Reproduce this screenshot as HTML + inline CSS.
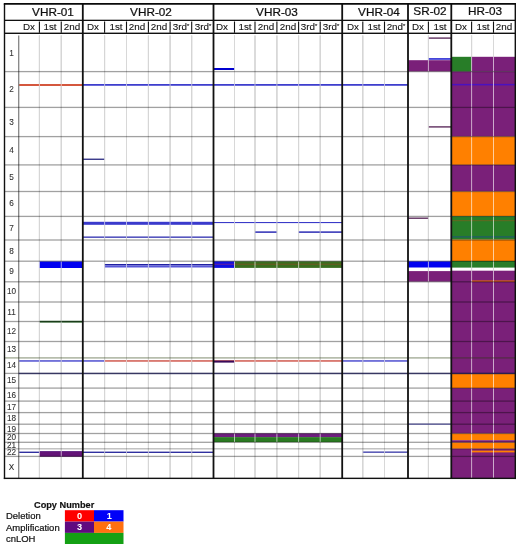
<!DOCTYPE html>
<html><head><meta charset="utf-8"><title>Copy number chart</title>
<style>
html,body{margin:0;padding:0;background:#fff;}
body{width:520px;height:547px;overflow:hidden;position:relative;}
#w{position:absolute;left:0;top:0;width:520px;height:547px;filter:blur(0.3px);}
#w div{position:absolute;}
.t{font-family:"Liberation Sans",Arial,Helvetica,sans-serif;color:#111;text-align:center;white-space:nowrap;}
.s1{-webkit-text-stroke:0.2px #111;}
.s0{-webkit-text-stroke:0.08px #111;}
.s2{-webkit-text-stroke:0.1px #111;}
.s3{-webkit-text-stroke:0.24px #111;}
.t sup{font-size:60%;vertical-align:0;position:relative;top:-0.42em;}
</style></head>
<body><div id="w">
<svg width="520" height="547" viewBox="0 0 520 547" style="position:absolute;left:0;top:0">
<rect x="38.90" y="35.50" width="1.00" height="442.85" fill="#989898"/>
<rect x="60.75" y="35.50" width="1.00" height="442.85" fill="#989898"/>
<rect x="104.10" y="35.50" width="1.00" height="442.85" fill="#989898"/>
<rect x="126.00" y="35.50" width="1.00" height="442.85" fill="#989898"/>
<rect x="147.90" y="35.50" width="1.00" height="442.85" fill="#989898"/>
<rect x="169.60" y="35.50" width="1.00" height="442.85" fill="#989898"/>
<rect x="191.20" y="35.50" width="1.00" height="442.85" fill="#989898"/>
<rect x="234.00" y="35.50" width="1.00" height="442.85" fill="#989898"/>
<rect x="254.50" y="35.50" width="1.00" height="442.85" fill="#989898"/>
<rect x="276.40" y="35.50" width="1.00" height="442.85" fill="#989898"/>
<rect x="298.10" y="35.50" width="1.00" height="442.85" fill="#989898"/>
<rect x="319.70" y="35.50" width="1.00" height="442.85" fill="#989898"/>
<rect x="362.30" y="35.50" width="1.00" height="442.85" fill="#989898"/>
<rect x="384.00" y="35.50" width="1.00" height="442.85" fill="#989898"/>
<rect x="427.90" y="35.50" width="1.00" height="442.85" fill="#989898"/>
<rect x="471.10" y="35.50" width="1.00" height="442.85" fill="#989898"/>
<rect x="493.00" y="35.50" width="1.00" height="442.85" fill="#989898"/>
<rect x="451.30" y="56.80" width="20.30" height="14.80" fill="#287d28"/>
<rect x="471.60" y="56.80" width="43.70" height="14.80" fill="#7a2079"/>
<rect x="451.30" y="71.60" width="64.00" height="65.00" fill="#7a2079"/>
<rect x="451.30" y="136.60" width="64.00" height="28.30" fill="#ff8000"/>
<rect x="451.30" y="164.90" width="64.00" height="26.60" fill="#7a2079"/>
<rect x="451.30" y="191.50" width="64.00" height="24.70" fill="#ff8000"/>
<rect x="451.30" y="216.20" width="64.00" height="23.40" fill="#287d28"/>
<rect x="451.30" y="239.60" width="64.00" height="21.40" fill="#ff8000"/>
<rect x="451.30" y="261.00" width="64.00" height="6.60" fill="#287d28"/>
<rect x="451.30" y="270.70" width="64.00" height="103.10" fill="#7a2079"/>
<rect x="451.30" y="373.80" width="64.00" height="14.30" fill="#ff8000"/>
<rect x="451.30" y="388.10" width="64.00" height="45.50" fill="#7a2079"/>
<rect x="451.30" y="433.60" width="64.00" height="6.60" fill="#ff8000"/>
<rect x="451.30" y="440.20" width="64.00" height="2.40" fill="#7a2079"/>
<rect x="451.30" y="442.60" width="64.00" height="6.20" fill="#ff8000"/>
<rect x="451.30" y="448.80" width="64.00" height="29.40" fill="#7a2079"/>
<rect x="471.60" y="450.60" width="43.70" height="1.80" fill="#ff8000"/>
<rect x="471.60" y="280.30" width="43.70" height="1.70" fill="#d0582a"/>
<rect x="451.30" y="220.00" width="64.00" height="1.20" fill="#5a6a20"/>
<rect x="451.30" y="236.30" width="64.00" height="1.20" fill="#1f5a6a"/>
<rect x="451.30" y="83.90" width="64.00" height="1.50" fill="#4a12c0"/>
<rect x="18.65" y="84.10" width="64.15" height="1.80" fill="#d0452a"/>
<rect x="39.40" y="261.40" width="43.40" height="6.60" fill="#0000f0"/>
<rect x="39.40" y="320.80" width="43.40" height="1.80" fill="#2a602a"/>
<rect x="39.40" y="451.40" width="43.40" height="5.10" fill="#641478"/>
<rect x="82.80" y="84.10" width="325.20" height="1.60" fill="#2a2ac8"/>
<rect x="82.80" y="158.60" width="21.80" height="1.30" fill="#282880"/>
<rect x="82.80" y="221.80" width="130.70" height="3.00" fill="#3a3acc"/>
<rect x="82.80" y="236.50" width="130.70" height="1.30" fill="#2e2eb0"/>
<rect x="104.60" y="264.00" width="108.90" height="1.40" fill="#2020a0"/>
<rect x="104.60" y="265.40" width="108.90" height="2.10" fill="#5858d8"/>
<rect x="18.65" y="360.20" width="85.95" height="1.50" fill="#5050d0"/>
<rect x="104.60" y="360.20" width="237.60" height="1.50" fill="#d05a50"/>
<rect x="213.50" y="360.60" width="21.00" height="2.00" fill="#3a0a5a"/>
<rect x="342.20" y="360.20" width="65.80" height="1.50" fill="#5050d0"/>
<rect x="18.65" y="451.60" width="194.85" height="1.40" fill="#3030a0"/>
<rect x="39.40" y="451.40" width="43.40" height="5.10" fill="#641478"/>
<rect x="213.50" y="68.00" width="21.00" height="2.00" fill="#0000d0"/>
<rect x="213.50" y="222.00" width="128.70" height="1.10" fill="#3a3ac8"/>
<rect x="255.00" y="231.40" width="21.90" height="1.40" fill="#2020b0"/>
<rect x="298.60" y="231.40" width="43.60" height="1.40" fill="#2020b0"/>
<rect x="213.50" y="261.30" width="21.00" height="6.60" fill="#1010e0"/>
<rect x="234.50" y="261.30" width="107.70" height="6.60" fill="#3a6e1e"/>
<rect x="213.50" y="263.70" width="21.00" height="1.10" fill="#6020a0"/>
<rect x="234.50" y="263.70" width="107.70" height="1.10" fill="#6a5a22"/>
<rect x="213.50" y="433.30" width="128.70" height="3.80" fill="#6e1e7e"/>
<rect x="213.50" y="437.10" width="128.70" height="5.00" fill="#2a7a22"/>
<rect x="362.80" y="451.50" width="45.20" height="1.30" fill="#3838a8"/>
<rect x="428.40" y="37.40" width="22.90" height="1.40" fill="#603060"/>
<rect x="428.40" y="58.20" width="22.90" height="1.50" fill="#1818d0"/>
<rect x="408.00" y="60.20" width="43.30" height="11.20" fill="#7a2079"/>
<rect x="428.40" y="126.20" width="22.90" height="1.40" fill="#603060"/>
<rect x="408.00" y="217.50" width="20.40" height="1.40" fill="#603060"/>
<rect x="408.00" y="261.30" width="43.30" height="6.20" fill="#0000f0"/>
<rect x="408.00" y="271.10" width="43.30" height="10.50" fill="#7a2079"/>
<rect x="38.90" y="35.50" width="1.00" height="442.85" fill="rgba(255,255,255,0.62)"/>
<rect x="60.75" y="35.50" width="1.00" height="442.85" fill="rgba(255,255,255,0.62)"/>
<rect x="104.10" y="35.50" width="1.00" height="442.85" fill="rgba(255,255,255,0.62)"/>
<rect x="126.00" y="35.50" width="1.00" height="442.85" fill="rgba(255,255,255,0.62)"/>
<rect x="147.90" y="35.50" width="1.00" height="442.85" fill="rgba(255,255,255,0.62)"/>
<rect x="169.60" y="35.50" width="1.00" height="442.85" fill="rgba(255,255,255,0.62)"/>
<rect x="191.20" y="35.50" width="1.00" height="442.85" fill="rgba(255,255,255,0.62)"/>
<rect x="234.00" y="35.50" width="1.00" height="442.85" fill="rgba(255,255,255,0.62)"/>
<rect x="254.50" y="35.50" width="1.00" height="442.85" fill="rgba(255,255,255,0.62)"/>
<rect x="276.40" y="35.50" width="1.00" height="442.85" fill="rgba(255,255,255,0.62)"/>
<rect x="298.10" y="35.50" width="1.00" height="442.85" fill="rgba(255,255,255,0.62)"/>
<rect x="319.70" y="35.50" width="1.00" height="442.85" fill="rgba(255,255,255,0.62)"/>
<rect x="362.30" y="35.50" width="1.00" height="442.85" fill="rgba(255,255,255,0.62)"/>
<rect x="384.00" y="35.50" width="1.00" height="442.85" fill="rgba(255,255,255,0.62)"/>
<rect x="427.90" y="35.50" width="1.00" height="442.85" fill="rgba(255,255,255,0.62)"/>
<rect x="471.10" y="35.50" width="1.00" height="442.85" fill="rgba(255,255,255,0.62)"/>
<rect x="493.00" y="35.50" width="1.00" height="442.85" fill="rgba(255,255,255,0.62)"/>
<rect x="18.05" y="35.50" width="1.30" height="442.85" fill="#858585"/>
<rect x="4.40" y="70.95" width="510.90" height="1.30" fill="rgba(0,0,0,0.37)"/>
<rect x="4.40" y="106.75" width="510.90" height="1.30" fill="rgba(0,0,0,0.37)"/>
<rect x="4.40" y="135.95" width="510.90" height="1.30" fill="rgba(0,0,0,0.37)"/>
<rect x="4.40" y="164.25" width="510.90" height="1.30" fill="rgba(0,0,0,0.37)"/>
<rect x="4.40" y="190.85" width="510.90" height="1.30" fill="rgba(0,0,0,0.37)"/>
<rect x="4.40" y="215.75" width="510.90" height="1.30" fill="rgba(0,0,0,0.37)"/>
<rect x="4.40" y="239.35" width="510.90" height="1.30" fill="rgba(0,0,0,0.37)"/>
<rect x="4.40" y="260.55" width="510.90" height="1.30" fill="rgba(0,0,0,0.37)"/>
<rect x="4.40" y="281.15" width="510.90" height="1.30" fill="rgba(0,0,0,0.37)"/>
<rect x="4.40" y="301.35" width="510.90" height="1.30" fill="rgba(0,0,0,0.37)"/>
<rect x="4.40" y="320.85" width="510.90" height="1.30" fill="rgba(0,0,0,0.37)"/>
<rect x="4.40" y="340.85" width="510.90" height="1.30" fill="rgba(0,0,0,0.37)"/>
<rect x="4.40" y="357.25" width="510.90" height="1.30" fill="rgba(40,60,10,0.45)"/>
<rect x="4.40" y="372.75" width="14.25" height="1.30" fill="rgba(0,0,0,0.37)"/>
<rect x="18.65" y="372.70" width="496.65" height="1.50" fill="rgba(20,20,70,0.85)"/>
<rect x="4.40" y="387.45" width="510.90" height="1.30" fill="rgba(0,0,0,0.37)"/>
<rect x="4.40" y="400.45" width="510.90" height="1.30" fill="rgba(0,0,0,0.37)"/>
<rect x="4.40" y="411.95" width="510.90" height="1.30" fill="rgba(0,0,0,0.37)"/>
<rect x="4.40" y="423.55" width="510.90" height="1.30" fill="rgba(0,0,0,0.37)"/>
<rect x="4.40" y="432.85" width="510.90" height="1.30" fill="rgba(0,0,0,0.37)"/>
<rect x="4.40" y="441.65" width="510.90" height="1.30" fill="rgba(0,0,0,0.37)"/>
<rect x="4.40" y="448.15" width="510.90" height="1.30" fill="rgba(0,0,0,0.28)"/>
<rect x="4.40" y="455.75" width="510.90" height="1.30" fill="rgba(0,0,0,0.37)"/>
<rect x="408.00" y="423.50" width="43.30" height="1.30" fill="#5a5a9a"/>
<rect x="81.90" y="3.70" width="1.80" height="474.65" fill="#111"/>
<rect x="212.60" y="3.70" width="1.80" height="474.65" fill="#111"/>
<rect x="341.30" y="3.70" width="1.80" height="474.65" fill="#111"/>
<rect x="407.10" y="3.70" width="1.80" height="474.65" fill="#111"/>
<rect x="450.40" y="3.70" width="1.80" height="474.65" fill="#111"/>
<rect x="4.40" y="19.70" width="510.90" height="1.30" fill="#111"/>
<rect x="4.40" y="32.60" width="510.90" height="1.40" fill="#111"/>
<rect x="38.85" y="21.50" width="1.10" height="11.30" fill="#111"/>
<rect x="60.70" y="21.50" width="1.10" height="11.30" fill="#111"/>
<rect x="104.05" y="21.50" width="1.10" height="11.30" fill="#111"/>
<rect x="125.95" y="21.50" width="1.10" height="11.30" fill="#111"/>
<rect x="147.85" y="21.50" width="1.10" height="11.30" fill="#111"/>
<rect x="169.55" y="21.50" width="1.10" height="11.30" fill="#111"/>
<rect x="191.15" y="21.50" width="1.10" height="11.30" fill="#111"/>
<rect x="233.95" y="21.50" width="1.10" height="11.30" fill="#111"/>
<rect x="254.45" y="21.50" width="1.10" height="11.30" fill="#111"/>
<rect x="276.35" y="21.50" width="1.10" height="11.30" fill="#111"/>
<rect x="298.05" y="21.50" width="1.10" height="11.30" fill="#111"/>
<rect x="319.65" y="21.50" width="1.10" height="11.30" fill="#111"/>
<rect x="362.25" y="21.50" width="1.10" height="11.30" fill="#111"/>
<rect x="383.95" y="21.50" width="1.10" height="11.30" fill="#111"/>
<rect x="427.85" y="21.50" width="1.10" height="11.30" fill="#111"/>
<rect x="471.05" y="21.50" width="1.10" height="11.30" fill="#111"/>
<rect x="492.95" y="21.50" width="1.10" height="11.30" fill="#111"/>
<rect x="3.80" y="3.70" width="1.40" height="475.35" fill="#111"/>
<rect x="514.60" y="3.70" width="1.40" height="475.35" fill="#111"/>
<rect x="3.80" y="3.00" width="512.20" height="1.75" fill="#0a0a0a"/>
<rect x="3.80" y="477.65" width="512.20" height="1.40" fill="#111"/>
<rect x="64.90" y="510.20" width="29.10" height="11.40" fill="#fe0000"/>
<rect x="94.00" y="510.20" width="29.50" height="11.40" fill="#0000f8"/>
<rect x="64.90" y="521.60" width="29.10" height="11.30" fill="#600a80"/>
<rect x="94.00" y="521.60" width="29.50" height="11.30" fill="#ff7010"/>
<rect x="64.90" y="532.90" width="58.60" height="11.10" fill="#14a014"/>
</svg>
<div class="t s3" style="left:17.60px;top:5.45px;width:70px;height:15.0px;line-height:15.0px;font-size:11.2px;transform:scaleX(1.05);">VHR-01</div>
<div class="t s3" style="left:115.60px;top:5.35px;width:70px;height:15.0px;line-height:15.0px;font-size:11.2px;transform:scaleX(1.05);">VHR-02</div>
<div class="t s3" style="left:242.30px;top:5.05px;width:70px;height:15.0px;line-height:15.0px;font-size:11.2px;transform:scaleX(1.05);">VHR-03</div>
<div class="t s3" style="left:343.90px;top:4.55px;width:70px;height:15.0px;line-height:15.0px;font-size:11.2px;transform:scaleX(1.05);">VHR-04</div>
<div class="t s3" style="left:395.30px;top:4.35px;width:70px;height:15.0px;line-height:15.0px;font-size:11.2px;transform:scaleX(1.05);">SR-02</div>
<div class="t s3" style="left:449.80px;top:4.05px;width:70px;height:15.0px;line-height:15.0px;font-size:11.2px;transform:scaleX(1.05);">HR-03</div>
<div class="t s2" style="left:14.02px;top:21.20px;width:30px;height:12.0px;line-height:12.0px;font-size:9.3px;transform:scaleX(1.06);">Dx</div>
<div class="t s2" style="left:35.33px;top:21.20px;width:30px;height:12.0px;line-height:12.0px;font-size:9.3px;transform:scaleX(1.06);">1st</div>
<div class="t s2" style="left:57.03px;top:21.20px;width:30px;height:12.0px;line-height:12.0px;font-size:9.3px;transform:scaleX(1.06);">2nd</div>
<div class="t s2" style="left:77.90px;top:21.20px;width:30px;height:12.0px;line-height:12.0px;font-size:9.3px;transform:scaleX(1.06);">Dx</div>
<div class="t s2" style="left:100.55px;top:21.20px;width:30px;height:12.0px;line-height:12.0px;font-size:9.3px;transform:scaleX(1.06);">1st</div>
<div class="t s2" style="left:122.45px;top:21.20px;width:30px;height:12.0px;line-height:12.0px;font-size:9.3px;transform:scaleX(1.06);">2nd</div>
<div class="t s2" style="left:144.25px;top:21.20px;width:30px;height:12.0px;line-height:12.0px;font-size:9.3px;transform:scaleX(1.06);">2nd</div>
<div class="t s2" style="left:165.90px;top:21.20px;width:30px;height:12.0px;line-height:12.0px;font-size:9.3px;transform:scaleX(1.06);">3rd<sup>*</sup></div>
<div class="t s2" style="left:187.60px;top:21.20px;width:30px;height:12.0px;line-height:12.0px;font-size:9.3px;transform:scaleX(1.06);">3rd<sup>*</sup></div>
<div class="t s2" style="left:206.70px;top:21.20px;width:30px;height:12.0px;line-height:12.0px;font-size:9.3px;transform:scaleX(1.06);">Dx</div>
<div class="t s2" style="left:229.75px;top:21.20px;width:30px;height:12.0px;line-height:12.0px;font-size:9.3px;transform:scaleX(1.06);">1st</div>
<div class="t s2" style="left:250.95px;top:21.20px;width:30px;height:12.0px;line-height:12.0px;font-size:9.3px;transform:scaleX(1.06);">2nd</div>
<div class="t s2" style="left:272.75px;top:21.20px;width:30px;height:12.0px;line-height:12.0px;font-size:9.3px;transform:scaleX(1.06);">2nd</div>
<div class="t s2" style="left:294.40px;top:21.20px;width:30px;height:12.0px;line-height:12.0px;font-size:9.3px;transform:scaleX(1.06);">3rd<sup>*</sup></div>
<div class="t s2" style="left:316.20px;top:21.20px;width:30px;height:12.0px;line-height:12.0px;font-size:9.3px;transform:scaleX(1.06);">3rd<sup>*</sup></div>
<div class="t s2" style="left:337.50px;top:21.20px;width:30px;height:12.0px;line-height:12.0px;font-size:9.3px;transform:scaleX(1.06);">Dx</div>
<div class="t s2" style="left:358.65px;top:21.20px;width:30px;height:12.0px;line-height:12.0px;font-size:9.3px;transform:scaleX(1.06);">1st</div>
<div class="t s2" style="left:381.25px;top:21.20px;width:30px;height:12.0px;line-height:12.0px;font-size:9.3px;transform:scaleX(1.06);">2nd<sup>*</sup></div>
<div class="t s2" style="left:403.20px;top:21.20px;width:30px;height:12.0px;line-height:12.0px;font-size:9.3px;transform:scaleX(1.06);">Dx</div>
<div class="t s2" style="left:424.85px;top:21.20px;width:30px;height:12.0px;line-height:12.0px;font-size:9.3px;transform:scaleX(1.06);">1st</div>
<div class="t s2" style="left:446.45px;top:21.20px;width:30px;height:12.0px;line-height:12.0px;font-size:9.3px;transform:scaleX(1.06);">Dx</div>
<div class="t s2" style="left:467.55px;top:21.20px;width:30px;height:12.0px;line-height:12.0px;font-size:9.3px;transform:scaleX(1.06);">1st</div>
<div class="t s2" style="left:489.40px;top:21.20px;width:30px;height:12.0px;line-height:12.0px;font-size:9.3px;transform:scaleX(1.06);">2nd</div>
<div class="t s0" style="left:4.60px;top:34.70px;width:14px;height:38.199999999999996px;line-height:38.199999999999996px;font-size:8.2px;color:#333;">1</div>
<div class="t s0" style="left:4.60px;top:72.10px;width:14px;height:35.80000000000001px;line-height:35.80000000000001px;font-size:8.2px;color:#333;">2</div>
<div class="t s0" style="left:4.60px;top:107.90px;width:14px;height:29.19999999999999px;line-height:29.19999999999999px;font-size:8.2px;color:#333;">3</div>
<div class="t s0" style="left:4.60px;top:137.10px;width:14px;height:28.30000000000001px;line-height:28.30000000000001px;font-size:8.2px;color:#333;">4</div>
<div class="t s0" style="left:4.60px;top:165.40px;width:14px;height:26.599999999999994px;line-height:26.599999999999994px;font-size:8.2px;color:#333;">5</div>
<div class="t s0" style="left:4.60px;top:192.00px;width:14px;height:24.900000000000006px;line-height:24.900000000000006px;font-size:8.2px;color:#333;">6</div>
<div class="t s0" style="left:4.60px;top:216.90px;width:14px;height:23.599999999999994px;line-height:23.599999999999994px;font-size:8.2px;color:#333;">7</div>
<div class="t s0" style="left:4.60px;top:240.50px;width:14px;height:21.19999999999999px;line-height:21.19999999999999px;font-size:8.2px;color:#333;">8</div>
<div class="t s0" style="left:4.60px;top:261.70px;width:14px;height:20.600000000000023px;line-height:20.600000000000023px;font-size:8.2px;color:#333;">9</div>
<div class="t s0" style="left:4.60px;top:282.30px;width:14px;height:20.19999999999999px;line-height:20.19999999999999px;font-size:8.2px;color:#333;">10</div>
<div class="t s0" style="left:4.60px;top:302.50px;width:14px;height:19.5px;line-height:19.5px;font-size:8.2px;color:#333;">11</div>
<div class="t s0" style="left:4.60px;top:322.00px;width:14px;height:20.0px;line-height:20.0px;font-size:8.2px;color:#333;">12</div>
<div class="t s0" style="left:4.60px;top:342.00px;width:14px;height:16.399999999999977px;line-height:16.399999999999977px;font-size:8.2px;color:#333;">13</div>
<div class="t s0" style="left:4.60px;top:358.40px;width:14px;height:15.5px;line-height:15.5px;font-size:8.2px;color:#333;">14</div>
<div class="t s0" style="left:4.60px;top:373.90px;width:14px;height:14.700000000000045px;line-height:14.700000000000045px;font-size:8.2px;color:#333;">15</div>
<div class="t s0" style="left:4.60px;top:388.60px;width:14px;height:13.0px;line-height:13.0px;font-size:8.2px;color:#333;">16</div>
<div class="t s0" style="left:4.60px;top:401.60px;width:14px;height:11.5px;line-height:11.5px;font-size:8.2px;color:#333;">17</div>
<div class="t s0" style="left:4.60px;top:413.10px;width:14px;height:11.599999999999966px;line-height:11.599999999999966px;font-size:8.2px;color:#333;">18</div>
<div class="t s0" style="left:4.60px;top:424.70px;width:14px;height:9.300000000000011px;line-height:9.300000000000011px;font-size:8.2px;color:#333;">19</div>
<div class="t s0" style="left:4.60px;top:434.00px;width:14px;height:8.800000000000011px;line-height:8.800000000000011px;font-size:8.2px;color:#333;">20</div>
<div class="t s0" style="left:4.60px;top:442.80px;width:14px;height:6.5px;line-height:6.5px;font-size:8.2px;color:#333;">21</div>
<div class="t s0" style="left:4.60px;top:449.30px;width:14px;height:7.599999999999966px;line-height:7.599999999999966px;font-size:8.2px;color:#333;">22</div>
<div class="t s0" style="left:4.60px;top:456.90px;width:14px;height:21.950000000000045px;line-height:21.950000000000045px;font-size:8.2px;color:#333;">X</div>
<div class="t" style="left:34px;top:499.6px;width:62px;height:11px;line-height:11px;font-size:9.2px;font-weight:bold;-webkit-text-stroke:0.15px #000;text-align:left;">Copy Number</div>
<div class="t s1" style="left:6px;top:511.10px;width:70px;height:11px;line-height:11px;font-size:9.2px;text-align:left;transform-origin:0 50%;transform:scaleX(1.03);">Deletion</div>
<div class="t s1" style="left:6px;top:522.50px;width:70px;height:11px;line-height:11px;font-size:9.2px;text-align:left;transform-origin:0 50%;transform:scaleX(1.03);">Amplification</div>
<div class="t s1" style="left:6px;top:533.90px;width:70px;height:11px;line-height:11px;font-size:9.2px;text-align:left;transform-origin:0 50%;transform:scaleX(1.03);">cnLOH</div>
<div class="t" style="left:72.60px;top:510.50px;width:14px;height:11.4px;line-height:11.4px;font-size:9.2px;font-weight:bold;color:#fff;">0</div>
<div class="t" style="left:102.20px;top:510.50px;width:14px;height:11.4px;line-height:11.4px;font-size:9.2px;font-weight:bold;color:#fff;">1</div>
<div class="t" style="left:72.60px;top:521.90px;width:14px;height:11.4px;line-height:11.4px;font-size:9.2px;font-weight:bold;color:#fff;">3</div>
<div class="t" style="left:101.80px;top:521.90px;width:14px;height:11.4px;line-height:11.4px;font-size:9.2px;font-weight:bold;color:#fff;">4</div>
</div></body></html>
